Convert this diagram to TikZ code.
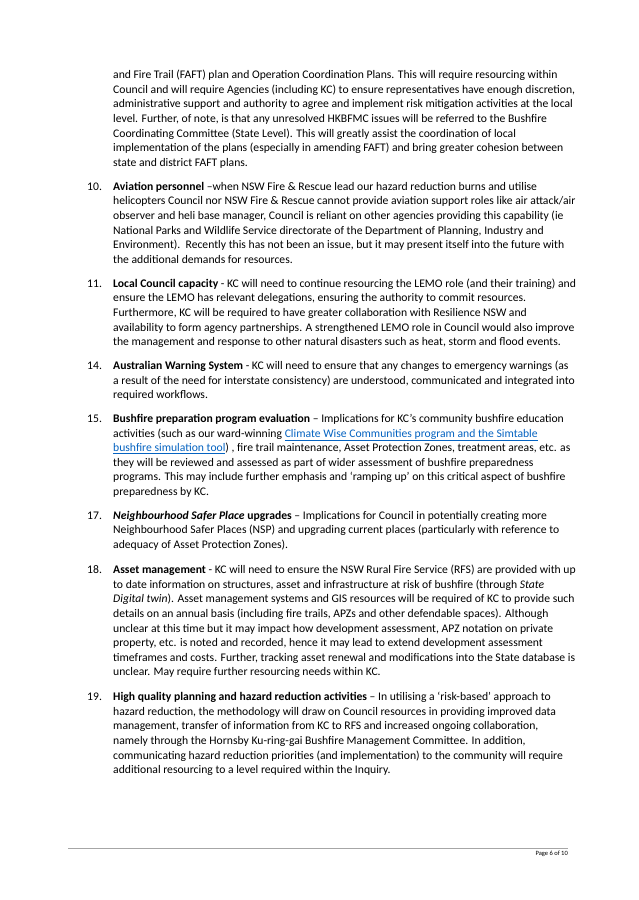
\documentclass[tikz,border=0pt]{standalone}
\usepackage{fontspec}
\setmainfont{Carlito}
\definecolor{linkblue}{RGB}{5,99,193}
\begin{document}
\begin{tikzpicture}[x=1pt,y=-1pt,
  para/.style={anchor=north west,align=left,inner sep=0pt,font=\fontsize{11.65}{14.6}\selectfont},
  num/.style={anchor=base west,inner sep=0pt,font=\fontsize{11.65}{14.6}\selectfont}]
\useasboundingbox[fill=white] (0,0) rectangle (638,900);
\newcommand{\lk}[1]{\textcolor{linkblue}{\underline{#1}}}
\node[para] (p0) at (113,70) {and Fire Trail (FAFT) plan and Operation Coordination Plans. This will require resourcing within\\
Council and will require Agencies (including KC) to ensure representatives have enough discretion,\\
administrative support and authority to agree and implement risk mitigation activities at the local\\
level. Further, of note, is that any unresolved HKBFMC issues will be referred to the Bushfire\\
Coordinating Committee (State Level). This will greatly assist the coordination of local\\
implementation of the plans (especially in amending FAFT) and bring greater cohesion between\\
state and district FAFT plans.};
\node[num] (n10) at (87,190.7) {10.};
\node[para] (p10) at (113,182) {\textbf{Aviation personnel} --when NSW Fire \& Rescue lead our hazard reduction burns and utilise\\
helicopters Council nor NSW Fire \& Rescue cannot provide aviation support roles like air attack/air\\
observer and heli base manager, Council is reliant on other agencies providing this capability (ie\\
National Parks and Wildlife Service directorate of the Department of Planning, Industry and\\
Environment).\ \ Recently this has not been an issue, but it may present itself into the future with\\
the additional demands for resources.};
\node[num] (n11) at (87,287.2) {11.};
\node[para] (p11) at (113,278.5) {\textbf{Local Council capacity} - KC will need to continue resourcing the LEMO role (and their training) and\\
ensure the LEMO has relevant delegations, ensuring the authority to commit resources.\\
Furthermore, KC will be required to have greater collaboration with Resilience NSW and\\
availability to form agency partnerships. A strengthened LEMO role in Council would also improve\\
the management and response to other natural disasters such as heat, storm and flood events.};
\node[num] (n14) at (87,369.7) {14.};
\node[para] (p14) at (113,361) {\textbf{Australian Warning System} - KC will need to ensure that any changes to emergency warnings (as\\
a result of the need for interstate consistency) are understood, communicated and integrated into\\
required workflows.};
\node[num] (n15) at (87,422.7) {15.};
\node[para] (p15) at (113,414) {\textbf{Bushfire preparation program evaluation} -- Implications for KC's community bushfire education\\
activities (such as our ward-winning \lk{Climate Wise Communities program and the Simtable}\\
\lk{bushfire simulation tool}) , fire trail maintenance, Asset Protection Zones, treatment areas, etc. as\\
they will be reviewed and assessed as part of wider assessment of bushfire preparedness\\
programs. This may include further emphasis and `ramping up' on this critical aspect of bushfire\\
preparedness by KC.};
\node[num] (n17) at (87,519.7) {17.};
\node[para] (p17) at (113,511) {\textbf{\textit{Neighbourhood Safer Place} upgrades} -- Implications for Council in potentially creating more\\
Neighbourhood Safer Places (NSP) and upgrading current places (particularly with reference to\\
adequacy of Asset Protection Zones).};
\node[num] (n18) at (87,573.7) {18.};
\node[para] (p18) at (113,565) {\textbf{Asset management} - KC will need to ensure the NSW Rural Fire Service (RFS) are provided with up\\
to date information on structures, asset and infrastructure at risk of bushfire (through \textit{State}\\
\textit{Digital twin}). Asset management systems and GIS resources will be required of KC to provide such\\
details on an annual basis (including fire trails, APZs and other defendable spaces). Although\\
unclear at this time but it may impact how development assessment, APZ notation on private\\
property, etc. is noted and recorded, hence it may lead to extend development assessment\\
timeframes and costs. Further, tracking asset renewal and modifications into the State database is\\
unclear. May require further resourcing needs within KC.};
\node[num] (n19) at (87,700.7) {19.};
\node[para] (p19) at (113,692) {\textbf{High quality planning and hazard reduction activities} -- In utilising a `risk-based' approach to\\
hazard reduction, the methodology will draw on Council resources in providing improved data\\
management, transfer of information from KC to RFS and increased ongoing collaboration,\\
namely through the Hornsby Ku-ring-gai Bushfire Management Committee. In addition,\\
communicating hazard reduction priorities (and implementation) to the community will require\\
additional resourcing to a level required within the Inquiry.};
\draw[gray!70,line width=0.6pt] (68,848) -- (568,848);
\node[anchor=east,inner sep=0pt,font=\fontsize{6.5}{8}\selectfont] (pg) at (568,854) {Page 6 of 10};
\end{tikzpicture}
\end{document}
